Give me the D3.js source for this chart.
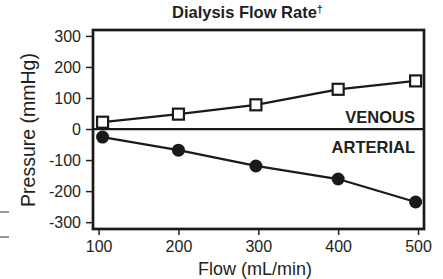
<!DOCTYPE html>
<html>
<head>
<meta charset="utf-8">
<script src="https://cdn.jsdelivr.net/npm/d3@7"></script>
<style>
  body { margin: 0; background: #fff; }
  svg { display: block; font-family: "Liberation Sans", Arial, sans-serif; }
</style>
</head>
<body>
<div id="chart"></div>
<script>
const flow = [105, 200, 297, 400, 497];
const venous = [22, 48, 78, 128, 155];
const arterial = [-26, -68, -119, -161, -235];
const xTicks = [100, 200, 300, 400, 500];
const yTicks = [300, 200, 100, 0, -100, -200, -300];

const width = 443;
const height = 279;
const plot = { left: 93, right: 424, top: 30, bottom: 229 };

const svg = d3.select("#chart")
    .append("svg")
    .attr("width", width)
    .attr("height", height);

const xScale = d3.scaleLinear()
    .domain([93, 507.5])
    .range([plot.left, plot.right]);

const yScale = d3.scaleLinear()
    .domain([-322, 319])
    .range([plot.bottom, plot.top]);

// axes, plain hyphen for negatives like the source
const xAxis = d3.axisBottom(xScale).tickValues(xTicks).tickSize(6).tickPadding(6).tickSizeOuter(0)
    .tickFormat(d => String(d));
const yAxis = d3.axisLeft(yScale).tickValues(yTicks).tickSize(7).tickPadding(5).tickSizeOuter(0)
    .tickFormat(d => String(d));

const gx = svg.append("g")
    .attr("transform", `translate(0, ${plot.bottom})`)
    .call(xAxis);
gx.select(".domain").remove();
gx.selectAll(".tick line").attr("stroke", "#222").attr("stroke-width", 1.5);
gx.selectAll("text").attr("font-size", 16).attr("fill", "#231f20");

const gy = svg.append("g")
    .attr("transform", `translate(${plot.left}, 0)`)
    .call(yAxis);
gy.select(".domain").remove();
gy.selectAll(".tick line").attr("stroke", "#222").attr("stroke-width", 1.5);
gy.selectAll("text").attr("font-size", 16).attr("fill", "#231f20");

// frame
svg.append("rect")
    .attr("x", plot.left)
    .attr("y", plot.top)
    .attr("width", plot.right - plot.left)
    .attr("height", plot.bottom - plot.top)
    .attr("fill", "none")
    .attr("stroke", "#1a1a1a")
    .attr("stroke-width", 2.7);

// zero line
svg.append("line")
    .attr("x1", plot.left).attr("x2", plot.right)
    .attr("y1", yScale(0)).attr("y2", yScale(0))
    .attr("stroke", "#1a1a1a")
    .attr("stroke-width", 2.2);

const line = d3.line()
    .x((d, i) => xScale(flow[i]))
    .y(d => yScale(d));

svg.append("path")
    .datum(venous)
    .attr("d", line)
    .attr("fill", "none")
    .attr("stroke", "#1a1a1a")
    .attr("stroke-width", 2.3);

svg.append("path")
    .datum(arterial)
    .attr("d", line)
    .attr("fill", "none")
    .attr("stroke", "#1a1a1a")
    .attr("stroke-width", 2.3);

svg.selectAll(".venous")
    .data(venous)
    .enter()
    .append("rect")
    .attr("class", "venous")
    .attr("x", (d, i) => xScale(flow[i]) - 5.5)
    .attr("y", d => yScale(d) - 5.5)
    .attr("width", 11)
    .attr("height", 11)
    .attr("fill", "#fff")
    .attr("stroke", "#1a1a1a")
    .attr("stroke-width", 2.2);

svg.selectAll(".arterial")
    .data(arterial)
    .enter()
    .append("circle")
    .attr("class", "arterial")
    .attr("cx", (d, i) => xScale(flow[i]))
    .attr("cy", d => yScale(d))
    .attr("r", 6.5)
    .attr("fill", "#1a1a1a");

// labels
const title = svg.append("text")
    .attr("x", 172)
    .attr("y", 18)
    .attr("font-size", 16.5)
    .attr("font-weight", "bold")
    .attr("fill", "#231f20")
    .text("Dialysis Flow Rate");
title.append("tspan")
    .attr("font-size", 10)
    .attr("dy", -5)
    .text("†");

svg.append("text")
    .attr("x", 415)
    .attr("y", 123)
    .attr("text-anchor", "end")
    .attr("font-size", 16.5)
    .attr("font-weight", "bold")
    .attr("fill", "#231f20")
    .text("VENOUS");

svg.append("text")
    .attr("x", 415)
    .attr("y", 153)
    .attr("text-anchor", "end")
    .attr("font-size", 16.5)
    .attr("font-weight", "bold")
    .attr("fill", "#231f20")
    .text("ARTERIAL");

svg.append("text")
    .attr("x", 255)
    .attr("y", 275)
    .attr("text-anchor", "middle")
    .attr("font-size", 18)
    .attr("fill", "#231f20")
    .text("Flow (mL/min)");

svg.append("text")
    .attr("transform", "translate(35, 130) rotate(-90)")
    .attr("text-anchor", "middle")
    .attr("font-size", 19.5)
    .attr("fill", "#231f20")
    .text("Pressure (mmHg)");

// cropped marks at the left edge
[212, 237].forEach(y => {
    svg.append("line")
        .attr("x1", 0).attr("x2", 9)
        .attr("y1", y).attr("y2", y)
        .attr("stroke", "#333")
        .attr("stroke-width", 1);
});
</script>
</body>
</html>
